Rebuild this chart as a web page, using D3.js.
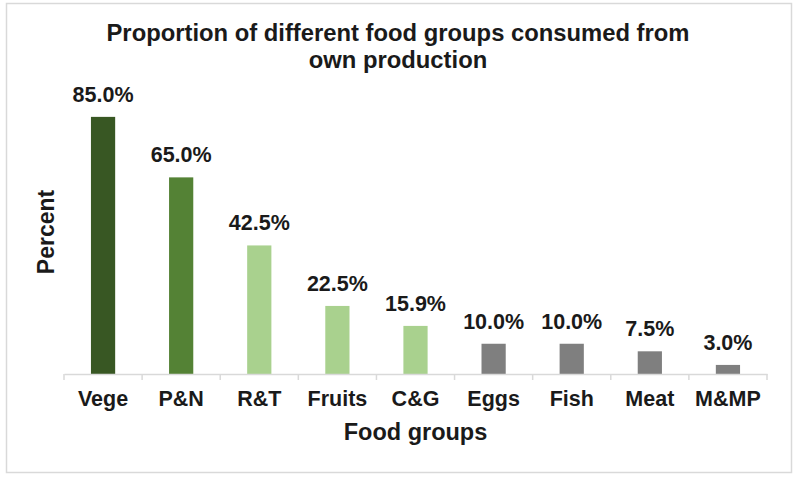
<!DOCTYPE html>
<html>
<head>
<meta charset="utf-8">
<script src="https://cdn.jsdelivr.net/npm/d3@7"></script>
<style>
  body { margin: 0; background: #fff; }
  svg { display: block; font-family: "Liberation Sans", Arial, sans-serif; }
</style>
</head>
<body>
<svg id="chart" width="797" height="478"></svg>
<script>
const categories = ["Vege", "P&N", "R&T", "Fruits", "C&G", "Eggs", "Fish", "Meat", "M&MP"];
const values = [85.0, 65.0, 42.5, 22.5, 15.9, 10.0, 10.0, 7.5, 3.0];
const colors = ["#385723", "#548235", "#a9d18e", "#a9d18e", "#a9d18e", "#7f7f7f", "#7f7f7f", "#7f7f7f", "#7f7f7f"];
const titleLines = ["Proportion of different food groups consumed from", "own production"];

const width = 797, height = 478;
const margin = { top: 102, right: 30, bottom: 104, left: 64 };

const svg = d3.select("#chart");

// outer frame
svg.append("rect")
  .attr("x", 6.5).attr("y", 3.5)
  .attr("width", 785).attr("height", 469)
  .attr("fill", "#fff")
  .attr("stroke", "#d9d9d9")
  .attr("stroke-width", 1.5);

const x = d3.scaleBand()
  .domain(categories)
  .range([margin.left, width - margin.right])
  .paddingInner(0.69)
  .paddingOuter(0.345);

const y = d3.scaleLinear()
  .domain([0, 90])
  .range([height - margin.bottom, height - margin.bottom - 90 * 3.025]);

const data = categories.map((c, i) => ({ cat: c, value: values[i], color: colors[i] }));

svg.selectAll("rect.bar")
  .data(data)
  .enter()
  .append("rect")
  .attr("class", "bar")
  .attr("x", (d) => x(d.cat))
  .attr("y", (d) => y(d.value))
  .attr("width", x.bandwidth())
  .attr("height", (d) => y(0) - y(d.value))
  .attr("fill", (d) => d.color);

svg.selectAll("text.val")
  .data(data)
  .enter()
  .append("text")
  .attr("class", "val")
  .attr("x", (d) => x(d.cat) + x.bandwidth() / 2)
  .attr("y", (d) => y(d.value) - 15)
  .attr("text-anchor", "middle")
  .attr("font-size", 21.5)
  .attr("font-weight", "bold")
  .attr("fill", "#1a1a1a")
  .text((d) => d.value.toFixed(1) + "%");

// x axis
const xAxis = svg.append("g")
  .attr("transform", `translate(0,${y(0)})`)
  .call(d3.axisBottom(x).tickSize(0).tickPadding(0));
xAxis.select(".domain").attr("stroke", "#d9d9d9").attr("stroke-width", 1.5);
xAxis.selectAll(".tick text")
  .attr("dy", 0)
  .attr("y", 32)
  .attr("font-size", 21.5)
  .attr("font-weight", "bold")
  .attr("fill", "#1a1a1a")
  .attr("font-family", "Liberation Sans, Arial, sans-serif");

// tick marks between bands
const step = x.step();
const bounds = d3.range(categories.length + 1).map((i) => margin.left + i * step);
svg.append("g")
  .selectAll("line")
  .data(bounds)
  .enter()
  .append("line")
  .attr("x1", (d) => d).attr("x2", (d) => d)
  .attr("y1", y(0)).attr("y2", y(0) + 6)
  .attr("stroke", "#d9d9d9")
  .attr("stroke-width", 1.5);

// title
svg.append("text")
  .attr("x", 398)
  .attr("y", 41)
  .attr("text-anchor", "middle")
  .attr("font-size", 23.8)
  .attr("font-weight", "bold")
  .attr("fill", "#1a1a1a")
  .selectAll("tspan")
  .data(titleLines)
  .enter()
  .append("tspan")
  .attr("x", 398)
  .attr("dy", (d, i) => (i === 0 ? 0 : 27))
  .text((d) => d);

// axis titles
svg.append("text")
  .attr("x", (margin.left + width - margin.right) / 2)
  .attr("y", 440)
  .attr("text-anchor", "middle")
  .attr("font-size", 23.5)
  .attr("font-weight", "bold")
  .attr("fill", "#1a1a1a")
  .text("Food groups");

svg.append("text")
  .attr("transform", "translate(54,232) rotate(-90)")
  .attr("text-anchor", "middle")
  .attr("font-size", 23)
  .attr("font-weight", "bold")
  .attr("fill", "#1a1a1a")
  .text("Percent");
</script>
</body>
</html>
